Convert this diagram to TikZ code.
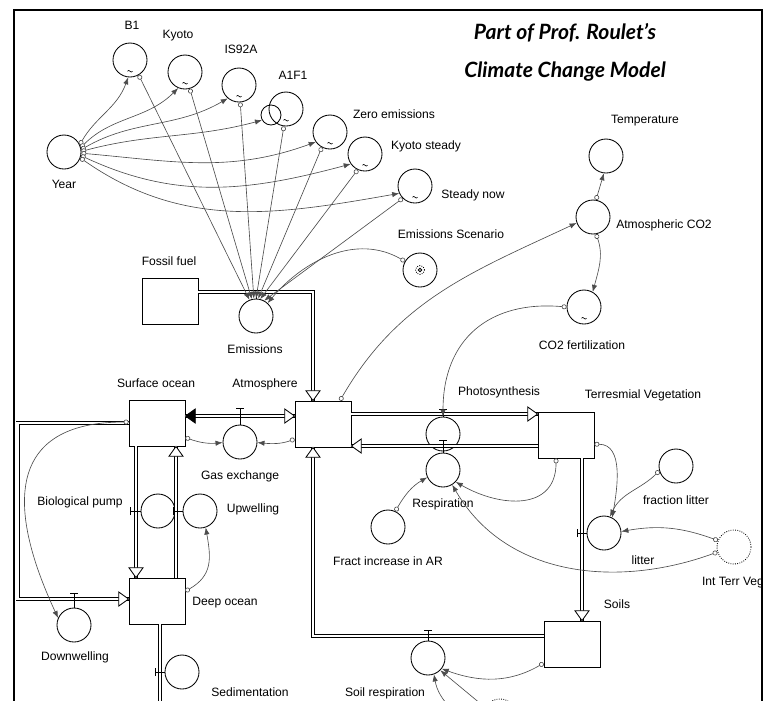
\documentclass[tikz,border=0pt]{standalone}
\usepackage{fontspec}
\setmainfont{Liberation Sans}
\newfontfamily\titlefont{Lato}
\usetikzlibrary{arrows.meta, calc, positioning}
\tikzset{
  stock/.style={draw, line width=0.6pt, minimum width=1.4cm, minimum height=1.15cm, inner sep=0pt},
  conv/.style={circle, draw, line width=0.6pt, minimum size=0.85cm, inner sep=0pt},
  ghostconv/.style={conv, densely dotted},
  gf/.style={path picture={\draw[line width=0.45pt] ([shift={(-1.8pt,-8pt)}]path picture bounding box.center) sin ++(0.9pt,0.6pt) cos ++(0.9pt,-0.6pt) sin ++(0.9pt,-0.6pt) cos ++(0.9pt,0.6pt);}},
  scen/.style={path picture={\draw[densely dotted] (path picture bounding box.center) circle (3.2pt); \draw (path picture bounding box.center) circle (1.3pt);}},
  lbl/.style={font=\fontsize{8.6}{10}\selectfont, inner sep=1pt},
  pipe/.style={double, double distance=1.6pt, line width=0.6pt},
  link/.style={draw=black!70, line width=0.45pt, {Circle[length=3.5pt,fill=white]}-{Latex[length=5pt,width=3.8pt]}},
  valve/.style={line width=0.7pt},
  fhead/.pic={\draw[fill=white, line width=0.6pt] (0,0) -- (-7pt,5pt) -- (-7pt,-5pt) -- cycle;},
  bhead/.pic={\draw[fill=black, line width=0.6pt] (0,0) -- (-7pt,5pt) -- (-7pt,-5pt) -- cycle;}
}
\begin{document}
\begin{tikzpicture}[x=0.025cm, y=0.025cm]
  \useasboundingbox (0,0) rectangle (768,-700);
  \clip (0,0) rectangle (768,-700);
  \draw[line width=2pt] (14,-720) -- (14,-10) -- (762,-10) -- (762,-720);

  \node[font=\titlefont\bfseries\itshape\fontsize{15}{17}\selectfont] (title1) at (565,-33) {Part of Prof. Roulet’s};
  \node[font=\titlefont\bfseries\itshape\fontsize{15}{17}\selectfont] (title2) at (565,-72) {Climate Change Model};

  \node[stock] (FF) at (170,-301) {};
  \node[stock] (SurfOcean) at (157,-423) {};
  \node[stock] (Atmosphere) at (323,-424) {};
  \node[stock] (TerrVeg) at (566,-435) {};
  \node[stock] (DeepOcean) at (157,-601) {};
  \node[stock] (Soils) at (572,-644) {};

  \node[conv] (Year) at (64,-152) {};
  \node[conv,gf] (B1) at (130,-60) {};
  \node[conv,gf] (Kyoto) at (185,-72) {};
  \node[conv,gf] (IS92A) at (239,-85) {};
  \node[conv,gf] (A1F1) at (286,-109) {};
  \node[conv,minimum size=0.5cm] (ghost) at (271,-115) {};
  \node[conv,gf] (Zero) at (330,-132) {};
  \node[conv,gf] (KyotoSt) at (365,-154) {};
  \node[conv,gf] (SteadyNow) at (415,-186) {};
  \node[conv,scen] (EmScen) at (420,-270) {};
  \node[conv] (Emissions) at (256,-316) {};
  \node[conv] (Temp) at (606,-156) {};
  \node[conv] (ACO2) at (593,-217) {};
  \node[conv,gf] (CO2fert) at (584,-307) {};
  \node[conv] (GasEx) at (240,-442) {};
  \node[conv] (BioPump) at (158,-511) {};
  \node[conv] (Upwelling) at (200,-511) {};
  \node[conv] (Downwelling) at (74,-625) {};
  \node[conv] (Sedim) at (182,-672) {};
  \node[conv] (Photo) at (443,-434) {};
  \node[conv] (Resp) at (443,-470) {};
  \node[conv] (FractAR) at (388,-527) {};
  \node[conv] (SoilResp) at (428,-658) {};
  \node[conv] (FracLitter) at (676,-466) {};
  \node[conv] (Litter) at (604,-533) {};
  \node[ghostconv] (IntTerrVeg) at (734,-547) {};
  \node[ghostconv] (IntSoil) at (500,-716) {};

  \node[lbl] (tYear) at (64,-184) {Year};
  \node[lbl] (tB1) at (132,-25) {B1};
  \node[lbl] (tKyoto) at (178,-36) {Kyoto};
  \node[lbl] (tIS92A) at (241,-49) {IS92A};
  \node[lbl] (tA1F1) at (293,-75) {A1F1};
  \node[lbl] (tZero) at (394,-114) {Zero emissions};
  \node[lbl] (tKyotoSt) at (426,-146) {Kyoto steady};
  \node[lbl] (tSteadyNow) at (473,-195) {Steady now};
  \node[lbl] (tEmScen) at (451,-234) {Emissions Scenario};
  \node[lbl] (tTemp) at (645,-121) {Temperature};
  \node[lbl] (tACO2) at (664,-225) {Atmospheric CO2};
  \node[lbl] (tCO2fert) at (582,-345) {CO2 fertilization};
  \node[lbl] (tFF) at (169,-261) {Fossil fuel};
  \node[lbl] (tEmissions) at (255,-349) {Emissions};
  \node[lbl] (tSurfOcean) at (156,-383) {Surface ocean};
  \node[lbl] (tAtmosphere) at (265,-384) {Atmosphere};
  \node[lbl] (tPhoto) at (499,-392) {Photosynthesis};
  \node[lbl] (tTerrVeg) at (643,-395) {Terresmial Vegetation};
  \node[lbl] (tGasEx) at (240,-476) {Gas exchange};
  \node[lbl] (tBioPump) at (80,-502) {Biological pump};
  \node[lbl] (tUpwelling) at (253,-509) {Upwelling};
  \node[lbl] (tResp) at (443,-504) {Respiration};
  \node[lbl] (tFracLitter) at (676,-500) {fraction litter};
  \node[lbl] (tFractAR) at (388,-561) {Fract increase in AR};
  \node[lbl] (tLitter) at (643,-560) {litter};
  \node[lbl] (tIntTerrVeg) at (733,-583) {Int Terr Veg};
  \node[lbl] (tDeepOcean) at (225,-603) {Deep ocean};
  \node[lbl] (tSoils) at (617,-604) {Soils};
  \node[lbl] (tDownwelling) at (75,-657) {Downwelling};
  \node[lbl] (tSedim) at (250,-692) {Sedimentation};
  \node[lbl] (tSoilResp) at (385,-693) {Soil respiration};

  \coordinate (emv) at (256,-292);
  \coordinate (gasv) at (240,-416);
  \coordinate (photv) at (443,-414);
  \coordinate (respv) at (443,-446);
  \coordinate (bpv) at (136,-511);
  \coordinate (upv) at (176,-511);
  \coordinate (dwv) at (74,-599);
  \coordinate (sedv) at (160,-672);
  \coordinate (litv) at (582,-533);
  \coordinate (srv) at (428,-636);
  \coordinate (atmin) at ($(Atmosphere.north)+(-10,0)$);
  \coordinate (atmout) at ($(Atmosphere.south)+(-10,0)$);

  \draw[pipe] (FF.east |- emv) -| (atmin);
  \draw[pipe] (SurfOcean.east |- gasv) -- (Atmosphere.west |- gasv);
  \draw[pipe] (Atmosphere.east |- photv) -- (TerrVeg.west |- photv);
  \draw[pipe] (TerrVeg.west |- respv) -- (Atmosphere.east |- respv);
  \draw[pipe] (SurfOcean.south -| bpv) -- (DeepOcean.north -| bpv);
  \draw[pipe] (DeepOcean.north -| upv) -- (SurfOcean.south -| upv);
  \draw[pipe] (SurfOcean.west) -- ++(-111,0) |- (DeepOcean.west |- dwv);
  \draw[pipe] (DeepOcean.south -| sedv) -- ++(0,-100);
  \draw[pipe] (TerrVeg.south -| litv) -- (Soils.north -| litv);
  \draw[pipe] (Soils.west |- srv) -| (atmout);

  \pic[rotate=-90] at (atmin) {fhead};
  \pic at (Atmosphere.west |- gasv) {fhead};
  \pic[rotate=180] at (SurfOcean.east |- gasv) {bhead};
  \pic at (TerrVeg.west |- photv) {fhead};
  \pic[rotate=180] at (Atmosphere.east |- respv) {fhead};
  \pic[rotate=-90] at (DeepOcean.north -| bpv) {fhead};
  \pic[rotate=90] at (SurfOcean.south -| upv) {fhead};
  \pic at (DeepOcean.west |- dwv) {fhead};
  \pic[rotate=-90] at (Soils.north -| litv) {fhead};
  \pic[rotate=90] at (atmout) {fhead};

  \draw[valve] (Emissions.north) -- (emv);
  \draw[valve] (GasEx.north) -- ++(0,16) ++(-4,0) -- ++(8,0);
  \draw[valve] (Photo.north) -- ++(0,7) ++(-4,0) -- ++(8,0);
  \draw[valve] (Resp.north) -- ++(0,12) ++(-4,0) -- ++(8,0);
  \draw[valve] (SoilResp.north) -- ++(0,10) ++(-4,0) -- ++(8,0);
  \draw[valve] (Downwelling.north) -- ++(0,14) ++(-4,0) -- ++(8,0);
  \draw[valve] (BioPump.west) -- ++(-10,0) ++(0,-4) -- ++(0,8);
  \draw[valve] (Upwelling.west) -- ++(-9,0) ++(0,-4) -- ++(0,8);
  \draw[valve] (Litter.west) -- ++(-9,0) ++(0,-4) -- ++(0,8);
  \draw[valve] (Sedim.west) -- ++(-9,0) ++(0,-4) -- ++(0,8);

  \draw[link] (Year.25) to[out=60,in=-110] (B1.-96);
  \draw[link] (Year.15) to[out=45,in=-135] (Kyoto.-113);
  \draw[link] (Year.8) to[out=30,in=-150] (IS92A.-130);
  \draw[link] (Year.2) to[out=15,in=-165] (ghost.-150);
  \draw[link] (Year.-4) to[out=-5,in=-160] (Zero.-145);
  \draw[link] (Year.-12) to[out=-25,in=-165] (KyotoSt.-145);
  \draw[link] (Year.-20) to[out=-35,in=-170] (SteadyNow.-155);
  \draw[link] (B1.-60) -- (Emissions.112);
  \draw[link] (Kyoto.-74) -- (Emissions.104);
  \draw[link] (IS92A.-86) -- (Emissions.97);
  \draw[link] (A1F1.-97) -- (Emissions.90);
  \draw[link] (Zero.-118) -- (Emissions.83);
  \draw[link] (KyotoSt.-115) -- (Emissions.76);
  \draw[link] (SteadyNow.-135) -- (Emissions.62);
  \draw[link] (EmScen.150) to[out=150,in=50] (Emissions.48);

  \draw[link] (Atmosphere.54) to[out=60,in=205] (ACO2.200);
  \draw[link] (ACO2.80) -- (Temp.-97);
  \draw[link] (ACO2.-80) to[out=-70,in=75] (CO2fert.60);
  \draw[link] (CO2fert.180) to[out=175,in=90,looseness=1.2] (Photo.90);
  \draw[link] (TerrVeg.-113) to[out=-90,in=-30,looseness=1.3] (Resp.-43);
  \draw[link] (FractAR.65) to[out=60,in=210] (Resp.205);
  \draw[link] (TerrVeg.-18) to[out=0,in=80] (Litter.62);
  \draw[link] (FracLitter.196) to[out=-135,in=65] (Litter.70);
  \draw[link] (IntTerrVeg.158) to[out=160,in=10] (Litter.5);
  \draw[link] (IntTerrVeg.197) to[out=200,in=-60] (Resp.-58);
  \draw[link] (Soils.214) to[out=-150,in=-20] (SoilResp.-38);
  \draw[link] (IntSoil.150) -- (SoilResp.-45);
  \draw[link] (IntSoil.185) to[out=185,in=-80] (SoilResp.-70);
  \draw[link] (DeepOcean.19) to[out=30,in=-80,looseness=1.2] (Upwelling.-71);
  \draw[link] (SurfOcean.-27) to[out=-20,in=185] (GasEx.182);
  \draw[link] (Atmosphere.208) to[out=200,in=-5] (GasEx.-2);
  \draw[link] (SurfOcean.178) to[out=180,in=115,looseness=1.5] (Downwelling.156);
\end{tikzpicture}
\end{document}
